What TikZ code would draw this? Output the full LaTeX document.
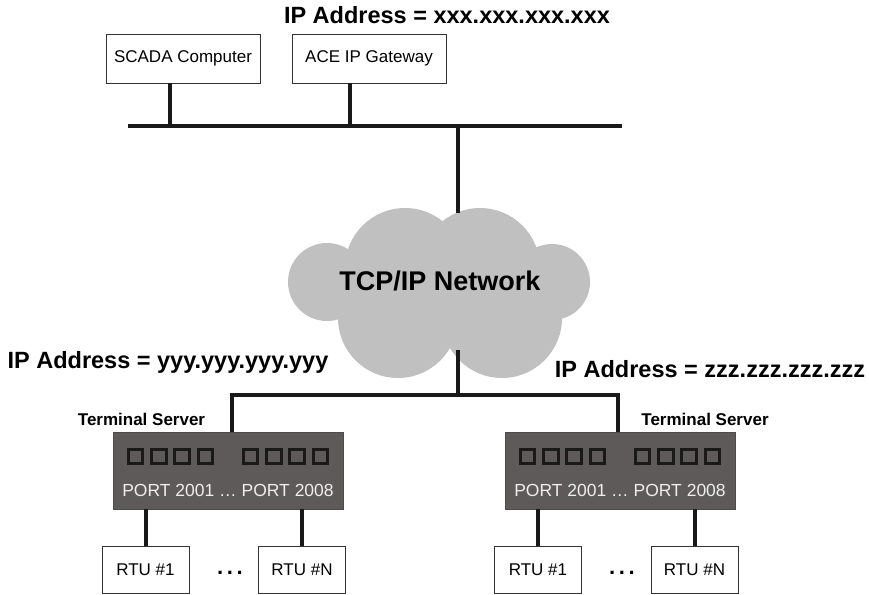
\documentclass[tikz,border=0pt]{standalone}
\usepackage{fontspec}
\setmainfont{Liberation Sans}
\usetikzlibrary{positioning}
\definecolor{cloudgray}{HTML}{C0C0C0}
\definecolor{servergray}{HTML}{5E5A5A}
\definecolor{porttext}{HTML}{EEEEEE}

\begin{document}
\begin{tikzpicture}[x=1pt,y=-1pt,
  box/.style={draw=black!80,fill=white,minimum width=154pt,minimum height=49pt,inner sep=0pt,font=\fontsize{17}{20}\selectfont},
  rtu/.style={box,minimum width=87pt,minimum height=47pt},
  server/.style={draw=black!70,fill=servergray,minimum width=230pt,minimum height=77pt,inner sep=0pt},
  port/.style={draw=black!90,line width=3pt,fill=servergray,minimum size=14.5pt,inner sep=0pt},
  wire/.style={line width=4pt,black!90},
  addr/.style={font=\bfseries\fontsize{23.5}{26}\selectfont},
  tslabel/.style={font=\bfseries\fontsize{17}{20}\selectfont}
]
  \useasboundingbox (0,0) rectangle (869,594);

  % top LAN
  \node[addr] (ipx) at (447,15) {IP Address = xxx.xxx.xxx.xxx};
  \node[box] (scada) at (183,58.5) {SCADA Computer};
  \node[box] (ace) at (369,58.5) {ACE IP Gateway};
  \coordinate (busL) at (128,126);
  \coordinate (busR) at (622,126);
  \coordinate (tapS) at (170,126);
  \coordinate (tapA) at (350,126);
  \coordinate (tapN) at (458,126);
  \draw[wire] (busL) -- (busR);
  \draw[wire] (scada.south -| tapS) -- (tapS);
  \draw[wire] (ace.south -| tapA) -- (tapA);

  % cloud
  \foreach \cx/\cy/\r in {405/268/60,480/268/60,327/282/39,552/282/38,398/318/60,502/318/60}
    \fill[cloudgray] (\cx,\cy) circle (\r);
  \fill[cloudgray] (345,255) rectangle (540,335);
  \node[font=\bfseries\fontsize{27}{30}\selectfont] (net) at (440,281) {TCP/IP Network};
  \coordinate (cloudtop) at (458,213);
  \coordinate (cloudbot) at (458,350);
  \coordinate (split) at (458,395);
  \draw[wire] (tapN) -- (cloudtop);

  % terminal servers
  \node[addr] (ipy) at (168,362) {IP Address = yyy.yyy.yyy.yyy};
  \node[addr] (ipz) at (710,369) {IP Address = zzz.zzz.zzz.zzz};
  \node[server] (srvL) at (228,470.5) {};
  \node[server] (srvR) at (620,470.5) {};
  \node[tslabel] (tsL) at (141.5,419) {Terminal Server};
  \node[tslabel] (tsR) at (705,419) {Terminal Server};
  \foreach \s in {srvL,srvR}{
    \foreach \dx in {-92.5,-69.2,-45.9,-22.6,22.6,45.9,69.2,92.5}
      \node[port] at ([xshift=\dx pt,yshift=14pt]\s.center) {};
    \node[text=porttext,font=\fontsize{17.5}{20}\selectfont] at ([yshift=-19.5pt]\s.center) {PORT 2001 \dots\ PORT 2008};
  }
  \draw[wire] (cloudbot) -- (split);
  \draw[wire] ([xshift=4pt]srvL.north) |- (split) -| ([xshift=-2pt]srvR.north);

  % RTUs
  \node[rtu] (rtuL1) at (145.5,569.5) {RTU \#1};
  \node[rtu] (rtuLN) at (302,569.5) {RTU \#N};
  \node[rtu] (rtuR1) at (538,569.5) {RTU \#1};
  \node[rtu] (rtuRN) at (694.5,569.5) {RTU \#N};
  \node[font=\bfseries\fontsize{22}{24}\selectfont] (dotsL) at (230,573) {.\,.\,.};
  \node[font=\bfseries\fontsize{22}{24}\selectfont] (dotsR) at (622,573) {.\,.\,.};
  \draw[wire] (rtuL1.north) -- (rtuL1.north |- srvL.south);
  \draw[wire] (rtuLN.north) -- (rtuLN.north |- srvL.south);
  \draw[wire] (rtuR1.north) -- (rtuR1.north |- srvR.south);
  \draw[wire] (rtuRN.north) -- (rtuRN.north |- srvR.south);
\end{tikzpicture}
\end{document}
